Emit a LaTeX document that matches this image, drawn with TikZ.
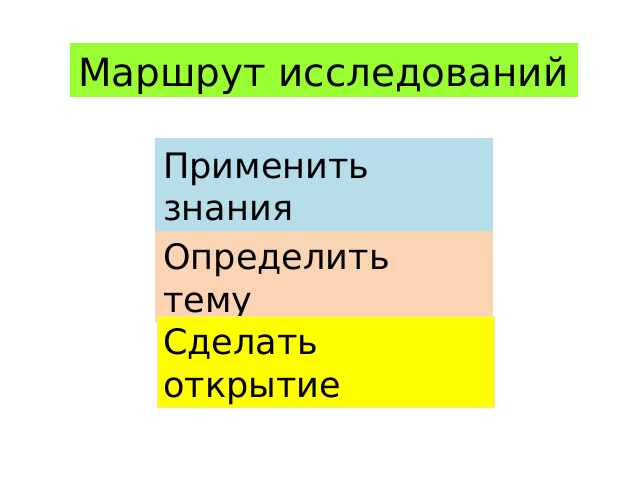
\documentclass[tikz,border=0pt]{standalone}
\usepackage{fontspec}
\setmainfont{DejaVu Sans}
\usetikzlibrary{positioning}
\definecolor{titlegreen}{HTML}{99FF33}
\definecolor{skyblue}{HTML}{B7DDE8}
\definecolor{peach}{HTML}{FBD4B4}
\definecolor{lemon}{HTML}{FFFF00}
\definecolor{lemonedge}{HTML}{F5E6A0}
\tikzset{
  panel/.style={anchor=north west, inner sep=0pt, outer sep=0pt, line width=0.6bp},
  headtext/.style={anchor=base west, inner sep=0pt, font=\fontsize{39}{46}\selectfont},
  word/.style={anchor=base west, inner sep=0pt, align=left, font=\fontsize{35.2}{42.5}\selectfont},
}
\begin{document}
\begin{tikzpicture}[x=1bp,y=-1bp]
  \useasboundingbox (0,0) rectangle (640,480);
  % title
  \node[panel, fill=titlegreen, minimum width=508bp, minimum height=54bp] (route) at (70,43) {};
  \node[headtext] (routetext) at (78,87) {Маршрут исследований};
  % steps, each box covers the one above it
  \node[panel, fill=skyblue, minimum width=338bp, minimum height=93bp] (apply) at (155,138) {};
  \node[word] (applytext) at (163,221) {Применить\\знания};
  \node[panel, fill=peach, minimum width=338bp, minimum height=91bp] (topic) at (155,231) {};
  \node[word] (topictext) at (163,312) {Определить\\тему};
  \node[panel, fill=lemon, draw=lemonedge, minimum width=337bp, minimum height=91bp] (discover) at (157,316) {};
  \node[word] (discovertext) at (163,397) {Сделать\\открытие};
\end{tikzpicture}
\end{document}
